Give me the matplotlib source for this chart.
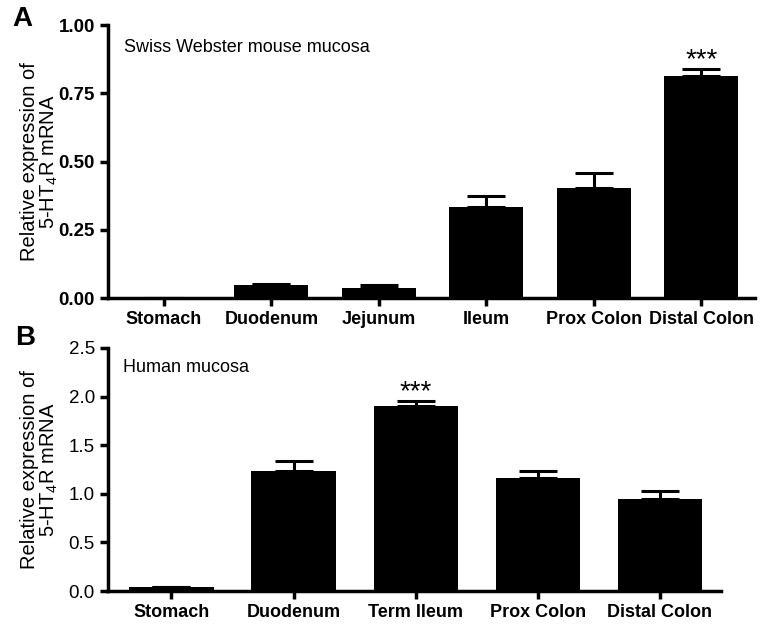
import matplotlib
matplotlib.use("Agg")
import matplotlib.pyplot as plt

plt.rcParams['font.family'] = ['Liberation Sans', 'DejaVu Sans']
plt.rcParams['mathtext.fontset'] = 'custom'
plt.rcParams['mathtext.rm'] = 'Liberation Sans'
plt.rcParams['mathtext.it'] = 'Liberation Sans:italic'
plt.rcParams['mathtext.bf'] = 'Liberation Sans:bold'

# Panel A - mouse mucosa
mouse_tissues = ["Stomach", "Duodenum", "Jejunum", "Ileum", "Prox Colon", "Distal Colon"]
mouse_mean = [0.001, 0.048, 0.037, 0.333, 0.403, 0.812]
mouse_err = [0.0, 0.004, 0.009, 0.041, 0.055, 0.027]
mouse_sig = ["", "", "", "", "", "***"]

# Panel B - human mucosa
human_tissues = ["Stomach", "Duodenum", "Term Ileum", "Prox Colon", "Distal Colon"]
human_mean = [0.04, 1.23, 1.90, 1.16, 0.95]
human_err = [0.0, 0.11, 0.05, 0.07, 0.08]
human_sig = ["", "", "***", "", ""]

W, H = 763, 624
fig = plt.figure(figsize=(W / 100, H / 100), dpi=100)


def px_axes(left, top, right, bottom):
    return fig.add_axes([left / W, 1 - bottom / H, (right - left) / W, (bottom - top) / H])


def draw_panel(ax, names, means, errs, sig, ymax, yticks, yfmt, ybold, note):
    x = list(range(len(names)))
    ax.bar(x, means, width=0.69, color="black", zorder=2)
    ax.errorbar(x, means, yerr=[[0] * len(errs), errs], fmt="none",
                ecolor="black", elinewidth=2.2, capsize=13.7, capthick=2.2, zorder=1)
    for xi, m, e, s in zip(x, means, errs, sig):
        if s:
            ax.annotate(s, (xi, m + e), xytext=(0, -3), textcoords="offset points",
                        ha="center", va="bottom", fontsize=20)
    ax.set_xlim(-0.52, len(names) - 0.5)
    ax.set_ylim(0, ymax)
    ax.set_xticks(x)
    ax.set_xticklabels(names, fontsize=13, fontweight="bold")
    ax.set_yticks(yticks)
    ax.set_yticklabels([yfmt.format(v) for v in yticks], fontsize=13.5,
                       fontweight="bold" if ybold else "normal")
    for side in ["top", "right"]:
        ax.spines[side].set_visible(False)
    for side in ["left", "bottom"]:
        ax.spines[side].set_linewidth(2.5)
    ax.tick_params(width=2.5, length=6, direction="out")
    ax.set_ylabel("Relative expression of\n5-HT$_4$R mRNA", fontsize=14.5,
                  linespacing=1.0)
    # put the label's right edge about 48 px left of the y axis
    ax.yaxis.set_label_coords(-48 / ax.bbox.width, 0.5)
    ax.text(0.025, 0.9, note, transform=ax.transAxes, fontsize=13)


axA = px_axes(108, 25, 755, 298)
draw_panel(axA, mouse_tissues, mouse_mean, mouse_err, mouse_sig, 1.0,
           [0, 0.25, 0.5, 0.75, 1.0], "{:.2f}", True, "Swiss Webster mouse mucosa")
fig.text(0.016, 0.970, "A", fontsize=20, fontweight="bold", va="center")

axB = px_axes(108, 348, 721, 591)
draw_panel(axB, human_tissues, human_mean, human_err, human_sig, 2.5,
           [0, 0.5, 1.0, 1.5, 2.0, 2.5], "{:.1f}", False, "Human mucosa")
fig.text(0.020, 0.458, "B", fontsize=20, fontweight="bold", va="center")

fig.savefig("out.png", dpi=100)
